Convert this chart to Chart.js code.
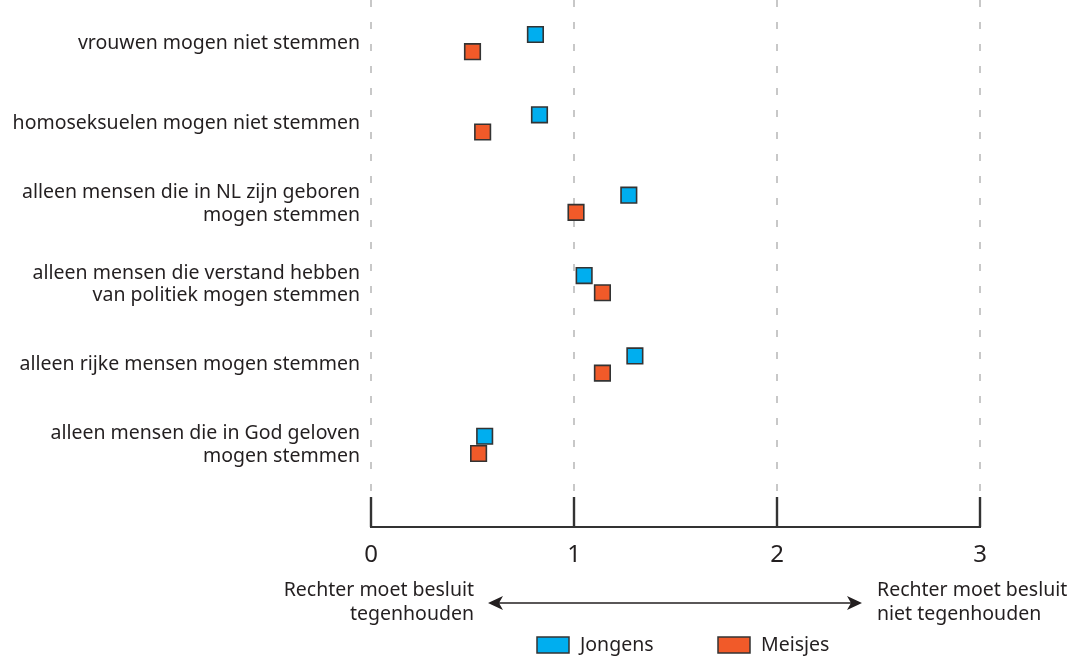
<!DOCTYPE html>
<html>
<head>
<meta charset="utf-8">
<script src="https://cdn.jsdelivr.net/npm/chart.js@4.4.1/dist/chart.umd.min.js"></script>
<style>
  html, body { margin: 0; padding: 0; background: #fff; }
  #chart { display: block; }
</style>
</head>
<body>
<canvas id="chart" width="1086" height="660"></canvas>
<script>
// Stellingen (van boven naar beneden)
const categories = [
  ["vrouwen mogen niet stemmen"],
  ["homoseksuelen mogen niet stemmen"],
  ["alleen mensen die in NL zijn geboren", "mogen stemmen"],
  ["alleen mensen die verstand hebben", "van politiek mogen stemmen"],
  ["alleen rijke mensen mogen stemmen"],
  ["alleen mensen die in God geloven", "mogen stemmen"]
];
const jongens = [0.81, 0.83, 1.27, 1.05, 1.30, 0.56];
const meisjes = [0.50, 0.55, 1.01, 1.14, 1.14, 0.53];
const xTicks = [0, 1, 2, 3];
const leftNote = ["Rechter moet besluit", "tegenhouden"];
const rightNote = ["Rechter moet besluit", "niet tegenhouden"];

const FONT = "'Noto Sans', 'Open Sans', sans-serif";
const TEXT = "#231f20";
const PAIR_OFFSET = 0.107; // jongens iets boven, meisjes iets onder de stelling

function toPoints(values, shift) {
  return values.map((v, i) => ({ x: v, y: i + shift }));
}

// binnenwaartse streepjes op de x-as, pijl, toelichting en legenda
const extras = {
  id: "extras",
  afterDraw(chart) {
    const ctx = chart.ctx;
    const x = chart.scales.x;
    const area = chart.chartArea;

    ctx.save();
    ctx.strokeStyle = "#333";
    ctx.lineWidth = 2.4;
    xTicks.forEach(t => {
      const px = Math.round(x.getPixelForValue(t));
      ctx.beginPath();
      ctx.moveTo(px, area.bottom - 30);
      ctx.lineTo(px, area.bottom);
      ctx.stroke();
    });

    // pijl
    const ay = 603, ax1 = 488, ax2 = 862;
    ctx.lineWidth = 1.6;
    ctx.strokeStyle = TEXT;
    ctx.fillStyle = TEXT;
    ctx.beginPath();
    ctx.moveTo(ax1 + 6, ay);
    ctx.lineTo(ax2 - 6, ay);
    ctx.stroke();
    [[ax1, 1], [ax2, -1]].forEach(([tip, d]) => {
      ctx.beginPath();
      ctx.moveTo(tip, ay);
      ctx.lineTo(tip + d * 15, ay - 7);
      ctx.lineTo(tip + d * 11, ay);
      ctx.lineTo(tip + d * 15, ay + 7);
      ctx.closePath();
      ctx.fill();
    });

    ctx.font = "19.5px " + FONT;
    ctx.textBaseline = "middle";
    ctx.textAlign = "right";
    leftNote.forEach((l, i) => ctx.fillText(l, 474, 590 + i * 24));
    ctx.textAlign = "left";
    rightNote.forEach((l, i) => ctx.fillText(l, 877, 590 + i * 24));

    // legenda
    const legendX = [537, 718];
    chart.data.datasets.forEach((ds, i) => {
      const bx = legendX[i], by = 637;
      ctx.fillStyle = ds.backgroundColor;
      ctx.fillRect(bx, by, 32, 16);
      ctx.strokeStyle = "#333";
      ctx.lineWidth = 1.5;
      ctx.strokeRect(bx, by, 32, 16);
      ctx.fillStyle = TEXT;
      ctx.textAlign = "left";
      ctx.fillText(ds.label, bx + 43, by + 8);
    });
    ctx.restore();
  }
};

new Chart(document.getElementById("chart"), {
  type: "scatter",
  data: {
    datasets: [
      {
        label: "Jongens",
        data: toPoints(jongens, -PAIR_OFFSET),
        backgroundColor: "#00aeef",
        borderColor: "#333",
        borderWidth: 1.6,
        pointStyle: "rect",
        pointRadius: 11,
        pointHoverRadius: 11
      },
      {
        label: "Meisjes",
        data: toPoints(meisjes, PAIR_OFFSET),
        backgroundColor: "#f15a29",
        borderColor: "#333",
        borderWidth: 1.6,
        pointStyle: "rect",
        pointRadius: 11,
        pointHoverRadius: 11
      }
    ]
  },
  options: {
    responsive: false,
    animation: false,
    layout: { autoPadding: false, padding: { top: 0, right: 106, bottom: 0, left: 0 } },
    plugins: {
      legend: { display: false },
      tooltip: { enabled: false }
    },
    scales: {
      x: {
        type: "linear",
        min: 0,
        max: 3,
        afterBuildTicks: s => { s.ticks = xTicks.map(v => ({ value: v })); },
        afterFit: s => { s.height = 133; s.paddingLeft = 0; s.paddingRight = 0; },
        grid: { color: "#c8c8c8", lineWidth: 2, drawTicks: false },
        border: { display: true, color: "#333", width: 2, dash: [7, 15] },
        ticks: {
          color: TEXT,
          font: { family: FONT, size: 24 },
          padding: 14
        }
      },
      y: {
        type: "linear",
        reverse: true,
        min: -0.536,
        max: 6.022,
        afterBuildTicks: s => { s.ticks = categories.map((c, i) => ({ value: i })); },
        afterFit: s => { s.width = 371; s.paddingTop = 0; s.paddingBottom = 0; },
        grid: { display: false, drawTicks: false },
        border: { display: false },
        ticks: {
          color: TEXT,
          font: { family: FONT, size: 19.5, lineHeight: 1.15 },
          padding: 11,
          callback: v => categories[v]
        }
      }
    }
  },
  plugins: [extras]
});
</script>
</body>
</html>
